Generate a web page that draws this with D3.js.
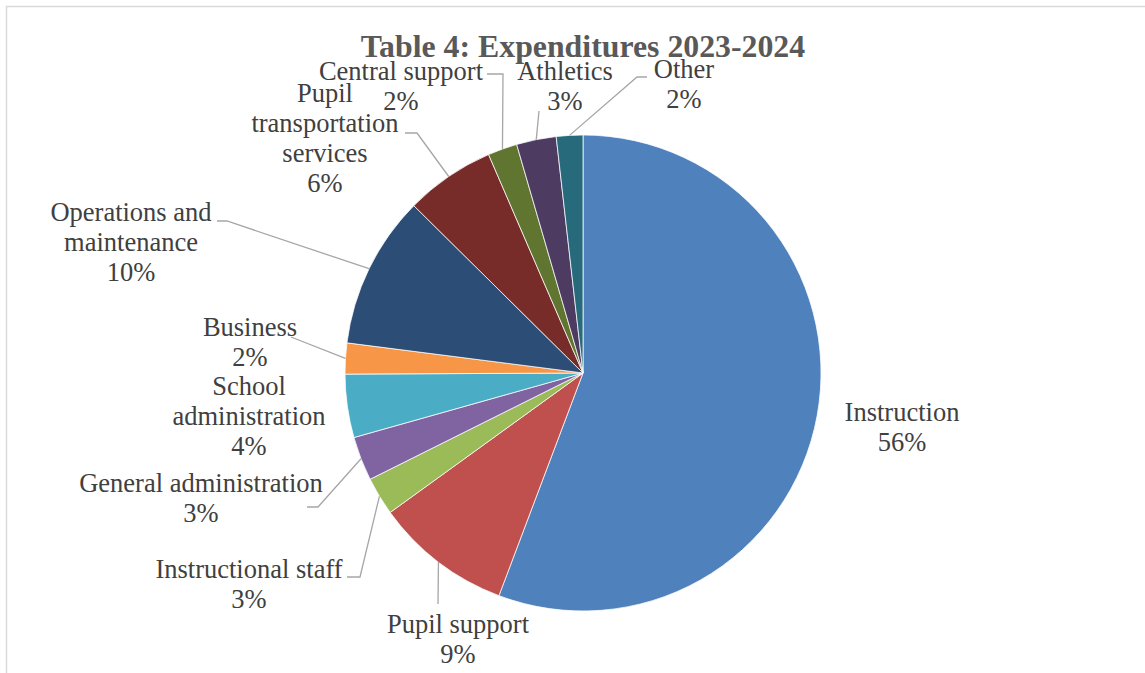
<!DOCTYPE html>
<html>
<head>
<meta charset="utf-8">
<script src="https://cdn.jsdelivr.net/npm/d3@7"></script>
<style>
  body { margin: 0; background: #fff; }
  svg { display: block; }
</style>
</head>
<body>
<div id="chart"></div>
<script>
// slices, clockwise from 12 o'clock (percent of total)
const categories = ["Instruction", "Pupil support", "Instructional staff", "General administration",
  "School administration", "Business", "Operations and maintenance",
  "Pupil transportation services", "Central support", "Athletics", "Other"];
const values = [55.8, 9.3, 2.6, 3.0, 4.3, 2.1, 10.4, 6.1, 2.0, 2.7, 1.8];
const colors = ["#4F81BD", "#C0504D", "#9BBB59", "#8064A2", "#4BACC6", "#F79646",
  "#2C4D75", "#772C2A", "#5F7530", "#4D3B62", "#276A7C"];
// how each category label wraps
const labelLines = [["Instruction"], ["Pupil support"], ["Instructional staff"], ["General administration"],
  ["School", "administration"], ["Business"], ["Operations and", "maintenance"],
  ["Pupil", "transportation", "services"], ["Central support"], ["Athletics"], ["Other"]];

const width = 1145, height = 673;
const cx = 583, cy = 373, radius = 238;

// label placement (text centre x, first baseline y) and leader line bends
const labelLayout = [
  {x: 902, y: 421, leader: null},
  {x: 458, y: 633, leader: [[438, 604]]},
  {x: 249, y: 578, leader: [[360, 577], [347, 577]]},
  {x: 201, y: 492, leader: [[318, 507], [307, 507]]},
  {x: 249, y: 395, leader: null},
  {x: 250, y: 336, leader: [[291, 337]]},
  {x: 131, y: 221, leader: [[227, 221], [217, 221]]},
  {x: 325, y: 102, leader: [[417, 133], [405, 133]]},
  {x: 401, y: 80, leader: [[503, 74], [487, 74]]},
  {x: 565, y: 80, leader: [[539, 111]]},
  {x: 684, y: 78, leader: [[637, 77], [647, 77]]}
];

const total = d3.sum(values);
const data = categories.map((c, i) => ({name: c, value: values[i], i: i}));

const svg = d3.select("#chart").append("svg")
  .attr("width", width)
  .attr("height", height);

// chart area border
svg.append("rect")
  .attr("x", 6.5).attr("y", 6.5)
  .attr("width", width + 20).attr("height", height + 20)
  .attr("fill", "#fff")
  .attr("stroke", "#D9D9D9")
  .attr("stroke-width", 1.5);

svg.append("text")
  .attr("x", cx)
  .attr("y", 57)
  .attr("text-anchor", "middle")
  .style("font-family", "'Liberation Serif', 'Times New Roman', serif")
  .style("font-size", "31.8px")
  .style("font-weight", "bold")
  .style("fill", "#595959")
  .text("Table 4: Expenditures 2023-2024");

const pie = d3.pie().sort(null).value(d => d.value);
const arcs = pie(data);
const arc = d3.arc().innerRadius(0).outerRadius(radius);

const g = svg.append("g").attr("transform", `translate(${cx},${cy})`);

g.selectAll("path")
  .data(arcs)
  .join("path")
    .attr("d", arc)
    .attr("fill", d => colors[d.data.i])
    .attr("stroke", "#fff")
    .attr("stroke-width", 0.75);

// leader lines start on the rim at each slice's mid angle
const line = d3.line();
arcs.forEach(function(d) {
  const lay = labelLayout[d.data.i];
  if (!lay.leader) return;
  const a = (d.startAngle + d.endAngle) / 2;
  const start = [cx + radius * Math.sin(a), cy - radius * Math.cos(a)];
  svg.append("path")
    .attr("d", line([start].concat(lay.leader)))
    .attr("fill", "none")
    .attr("stroke", "#A6A6A6")
    .attr("stroke-width", 1.3);
});

const labels = svg.append("g")
  .style("font-family", "'Liberation Serif', 'Times New Roman', serif")
  .style("font-size", "26.5px")
  .style("fill", "#404040");

arcs.forEach(function(d) {
  const lay = labelLayout[d.data.i];
  const lines = labelLines[d.data.i].concat([Math.round(d.data.value / total * 100) + "%"]);
  const t = labels.append("text")
    .attr("text-anchor", "middle");
  lines.forEach(function(s, k) {
    t.append("tspan")
      .attr("x", lay.x)
      .attr("y", lay.y + k * 30)
      .text(s);
  });
});
</script>
</body>
</html>
